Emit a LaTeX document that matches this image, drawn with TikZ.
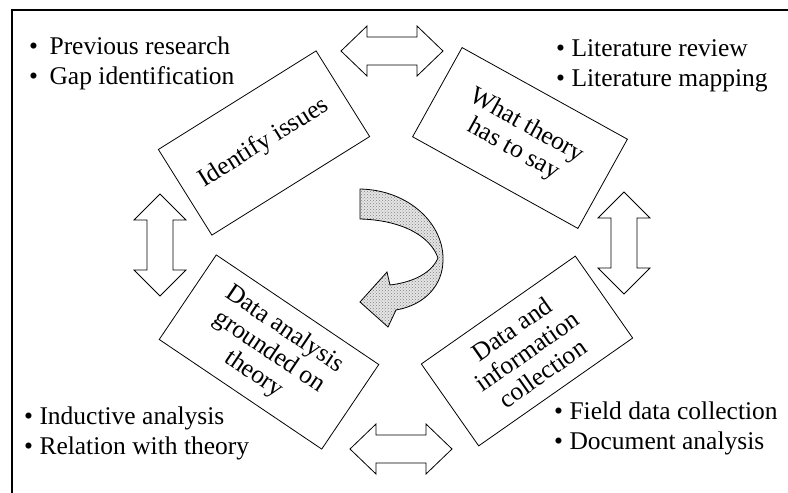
\documentclass[tikz,border=0pt]{standalone}
\usepackage{fontspec}
\setmainfont{Liberation Serif}
\usepackage{tikz}
\usetikzlibrary{patterns}

\begin{document}
\begin{tikzpicture}[x=1pt,y=-1pt,
        box/.style={draw, line width=0.8pt, fill=white, inner sep=0pt, align=center,
            font=\fontsize{25.5}{27}\selectfont},
        notes/.style={anchor=west, inner sep=0pt, align=left,
            font=\fontsize{25.5}{30}\selectfont},
        dblarrow/.style={draw, line width=0.8pt, fill=white}]
        \useasboundingbox (0,0) rectangle (788,493);

        % Frame (only the top and left sides are in view)
        \draw[line width=2pt] (12,493) -- (12,10) -- (788,10);

        % The four steps
        \node[box, rotate=32, minimum width=186pt, minimum height=101pt] (issues) at (264,143) {Identify issues};
        \node[box, rotate=-29, minimum width=189pt, minimum height=102pt] (theory) at (520,138) {What theory\\has to say};
        \node[box, rotate=35, minimum width=188pt, minimum height=100pt] (collection) at (527,351) {Data and\\information\\collection};
        \node[box, rotate=-34, minimum width=196pt, minimum height=102pt] (analysis) at (269,352) {Data analysis\\grounded on\\theory};

        % Notes beside each step
        \node[notes] (issuesnotes) at (29,63) {\textbullet\hspace{0.45em}Previous research\\\textbullet\hspace{0.45em}Gap identification};
        \node[notes] (theorynotes) at (556,66) {\textbullet\ Literature review\\\textbullet\ Literature mapping};
        \node[notes] (collectionnotes) at (554,428) {\textbullet\ Field data collection\\\textbullet\ Document analysis};
        \node[notes] (analysisnotes) at (24,433) {\textbullet\ Inductive analysis\\\textbullet\ Relation with theory};

        % Horizontal double arrows
        \foreach \x/\y in {341/51, 350/449}
            \draw[dblarrow] (\x,\y) -- ++(26,-25) -- ++(0,11) -- ++(50,0) -- ++(0,-11) -- ++(26,25)
                -- ++(-26,25) -- ++(0,-11) -- ++(-50,0) -- ++(0,11) -- cycle;

        % Vertical double arrows
        \foreach \x/\y in {160/194, 624/192}
            \draw[dblarrow] (\x,\y) -- ++(-26,26) -- ++(13,0) -- ++(0,50) -- ++(-13,0) -- ++(26,26)
                -- ++(26,-26) -- ++(-13,0) -- ++(0,-50) -- ++(13,0) -- cycle;

        % Curved arrow in the middle
        \draw[line width=0.8pt, preaction={fill=gray!20}, pattern=crosshatch dots, pattern color=gray]
            (360,189) .. controls (410,190) and (444,225) .. (443,260)
            .. controls (443,285) and (425,305) .. (396,310) -- (388,327) -- (360,302) -- (387,272)
            -- (390,285) .. controls (415,282) and (432,272) .. (438,258)
            .. controls (430,235) and (400,220) .. (360,219) -- cycle;
\end{tikzpicture}
\end{document}
